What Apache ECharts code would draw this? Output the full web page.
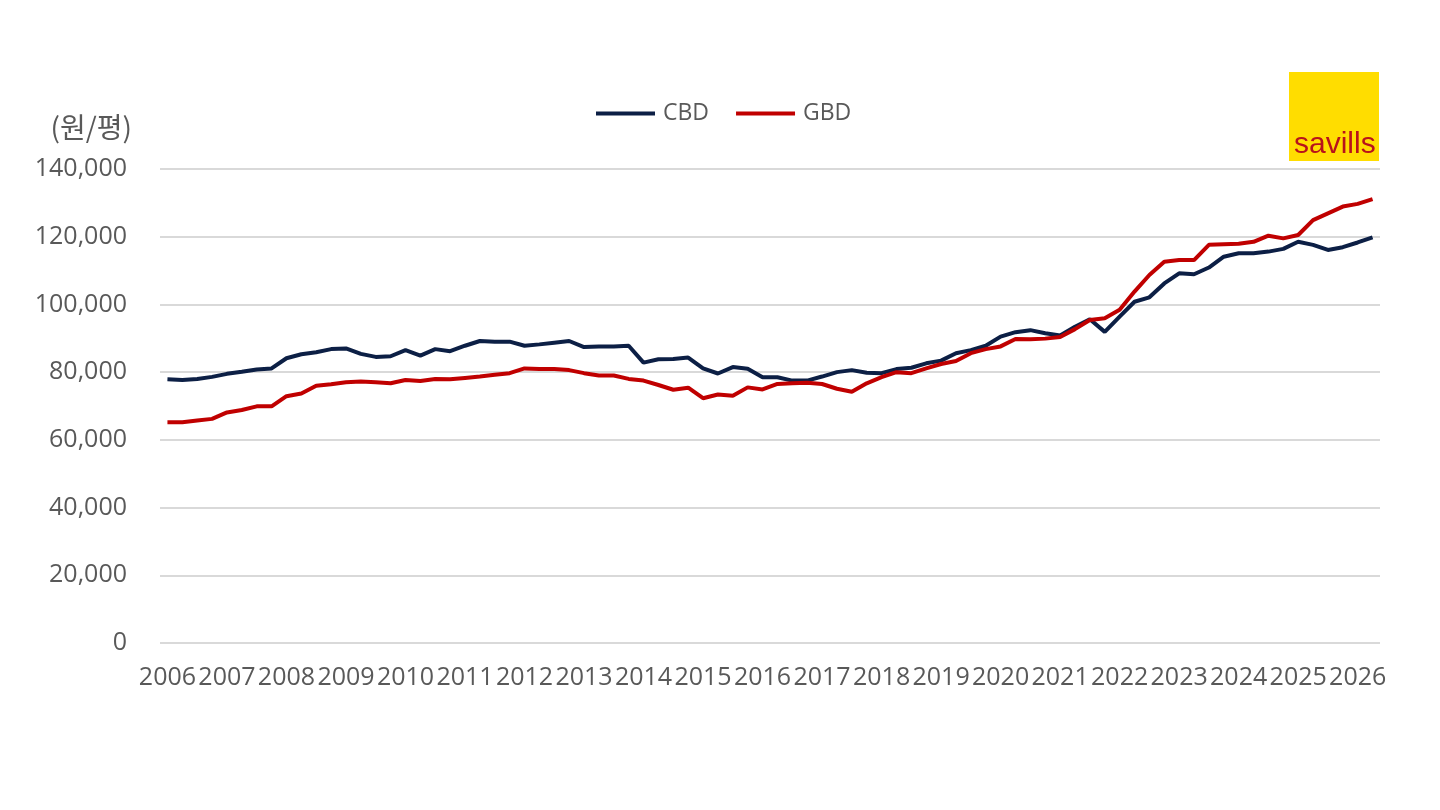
<!DOCTYPE html>
<html>
<head>
<meta charset="utf-8">
<title>CBD / GBD</title>
<script src="https://cdn.jsdelivr.net/npm/echarts@6/dist/echarts.min.js"></script>
<style>
  html, body { margin: 0; padding: 0; background: #fff; }
  #chart { width: 1440px; height: 810px; }
</style>
</head>
<body>
<div id="chart"></div>
<script>
// 연도 (분기별 데이터, 2006 1Q ~ 2026 2Q)
var years = ['2006','2007','2008','2009','2010','2011','2012','2013','2014','2015',
             '2016','2017','2018','2019','2020','2021','2022','2023','2024','2025','2026'];
var quarters = ['1Q','2Q','3Q','4Q'];

// 임대료 (원/평)
var cbd = [
  77900, 77700, 78000, 78600, 79500, 80100, 80800, 81100,
  84100, 85300, 85900, 86800, 87000, 85400, 84500, 84700,
  86500, 84900, 86800, 86200, 87800, 89200, 89000, 89000,
  87800, 88200, 88700, 89200, 87400, 87600, 87600, 87800,
  82800, 83800, 83900, 84300, 81100, 79600, 81500, 81000,
  78500, 78500, 77500, 77500, 78700, 80000, 80600, 79800,
  79700, 80900, 81300, 82600, 83400, 85600, 86500, 87800,
  90500, 91800, 92400, 91500, 90800, 93400, 95600, 91900,
  96400, 100800, 102100, 106200, 109200, 108900, 110900, 114100,
  115100, 115100, 115600, 116400, 118500, 117600, 116100, 116900,
  118300, 119800
];
var gbd = [
  65200, 65200, 65700, 66200, 68100, 68800, 69900, 69900,
  72900, 73700, 76000, 76400, 77000, 77200, 77000, 76700,
  77700, 77400, 78000, 77900, 78300, 78700, 79200, 79700,
  81100, 80900, 80900, 80600, 79700, 79000, 79000, 78000,
  77500, 76200, 74800, 75400, 72300, 73400, 73000, 75500,
  74900, 76500, 76700, 76900, 76500, 75100, 74200, 76700,
  78500, 80000, 79700, 81100, 82400, 83300, 85600, 86800,
  87600, 89800, 89700, 89900, 90400, 92700, 95400, 95900,
  98400, 103800, 108700, 112600, 113100, 113100, 117600, 117800,
  117900, 118500, 120300, 119500, 120500, 124900, 126900, 128900,
  129700, 131100
];

var yMin = 0, yMax = 140000, yStep = 20000;

// 분기 카테고리
var categories = [];
years.forEach(function (y) {
  quarters.forEach(function (q) { categories.push(y + ' ' + q); });
});
categories = categories.slice(0, cbd.length);

var myChart = echarts.init(document.getElementById('chart'));
var textColor = '#595959';
var font = '"Open Sans", "Noto Sans", sans-serif';

var option = {
  animation: false,
  backgroundColor: '#ffffff',
  textStyle: { fontFamily: font },
  legend: {
    top: 102,
    left: 596,
    padding: 0,
    itemWidth: 59,
    itemHeight: 4,
    itemGap: 27,
    icon: 'rect',
    textStyle: { fontSize: 23, color: textColor, fontFamily: font, padding: [0, 0, 0, 3] },
    data: ['CBD', 'GBD']
  },
  grid: { left: 160, right: 60, top: 169, bottom: 167, containLabel: false },
  xAxis: {
    type: 'category',
    boundaryGap: true,
    data: categories,
    axisLine: { show: false },
    axisTick: { show: false },
    axisLabel: {
      interval: 3,
      margin: 22,
      fontSize: 25,
      color: textColor,
      fontFamily: font,
      formatter: function (v) { return v.split(' ')[0]; }
    }
  },
  yAxis: {
    type: 'value',
    min: yMin,
    max: yMax,
    interval: yStep,
    name: '(원/평)',
    nameLocation: 'end',
    nameGap: 28,
    nameTextStyle: {
      align: 'right',
      fontSize: 28,
      color: textColor,
      fontFamily: '"Noto Sans CJK KR", ' + font,
      padding: [0, 28, 0, 0]
    },
    axisLine: { show: false },
    axisTick: { show: false },
    axisLabel: {
      margin: 33,
      fontSize: 25,
      color: textColor,
      fontFamily: font,
      formatter: function (v) { return v.toLocaleString('en-US'); }
    },
    splitLine: { lineStyle: { color: '#d9d9d9', width: 2 } }
  },
  graphic: [
    {
      type: 'rect',
      left: 1289, top: 72,
      shape: { width: 90, height: 89 },
      style: { fill: '#FFDD00' }
    },
    {
      type: 'text',
      left: 1294, top: 130,
      style: {
        text: 'savills',
        fontSize: 30,
        fontFamily: '"Liberation Sans", Arial, sans-serif',
        fill: '#B8121B'
      }
    }
  ],
  series: [
    {
      name: 'CBD',
      type: 'line',
      symbol: 'none',
      lineStyle: { width: 4, color: '#0C1F45' },
      itemStyle: { color: '#0C1F45' },
      data: cbd
    },
    {
      name: 'GBD',
      type: 'line',
      symbol: 'none',
      lineStyle: { width: 4, color: '#C00000' },
      itemStyle: { color: '#C00000' },
      data: gbd
    }
  ]
};
myChart.setOption(option);
</script>
</body>
</html>
